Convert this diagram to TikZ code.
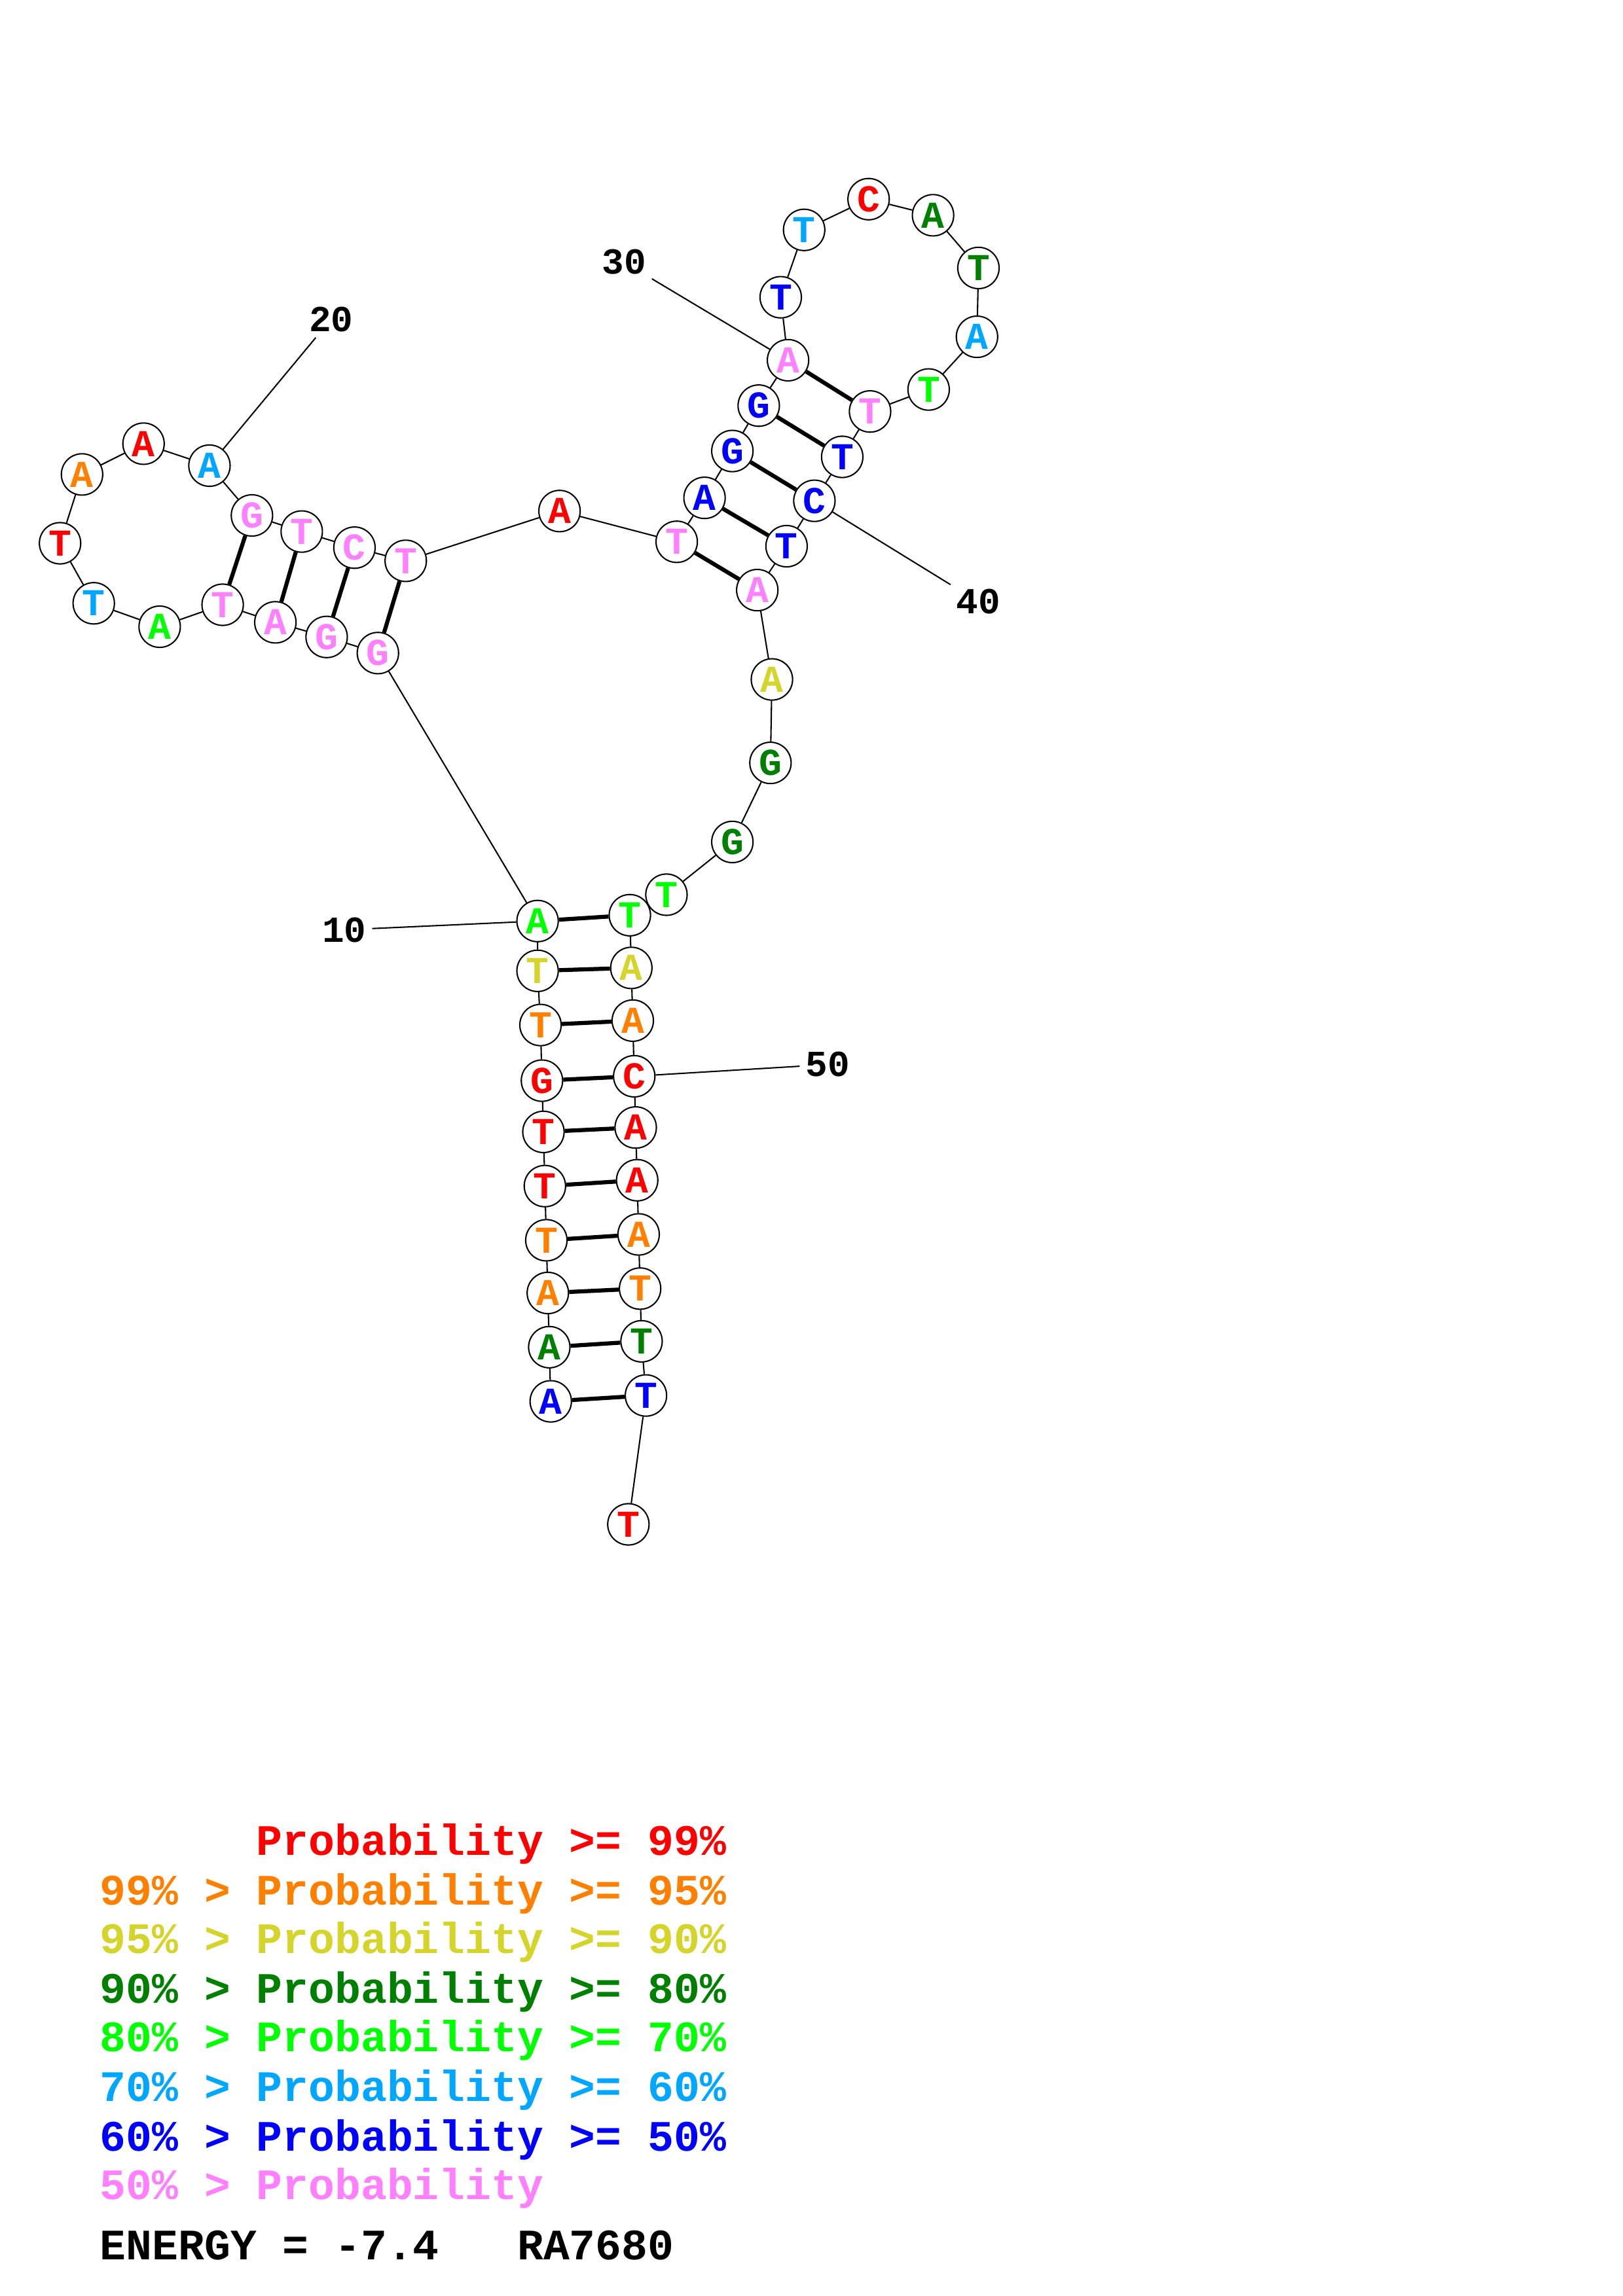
\documentclass[tikz,border=0pt]{standalone}
\usepackage{fontspec}
\setmonofont{Liberation Mono}
\usetikzlibrary{positioning}
\definecolor{pr99}{RGB}{255,0,0}
\definecolor{pr95}{RGB}{255,128,0}
\definecolor{pr90}{RGB}{212,212,42}
\definecolor{pr80}{RGB}{0,128,0}
\definecolor{pr70}{RGB}{0,255,0}
\definecolor{pr60}{RGB}{0,166,255}
\definecolor{pr50}{RGB}{0,0,255}
\definecolor{prlow}{RGB}{255,128,255}
\tikzset{
  nt/.style={circle,draw=black,fill=white,line width=0.5pt,minimum size=0.535cm,inner sep=0pt,font=\ttfamily\bfseries\fontsize{14}{14}\selectfont},
  backbone/.style={line width=0.5pt},
  pairline/.style={line width=1.5pt},
  numlabel/.style={inner sep=2pt,font=\ttfamily\bfseries\fontsize{13.5}{13.5}\selectfont},
  legendline/.style={anchor=base west,inner sep=0pt,font=\ttfamily\bfseries\fontsize{16}{16}\selectfont}
}
\begin{document}
\begin{tikzpicture}[x=0.0189531cm,y=-0.0189531cm]
\useasboundingbox (0,0) rectangle (1108,1568);
\node[nt,text=pr50] (n1) at (376,957) {A};
\node[nt,text=pr80] (n2) at (375,920) {A};
\node[nt,text=pr95] (n3) at (374,883) {A};
\node[nt,text=pr95] (n4) at (373,847) {T};
\node[nt,text=pr99] (n5) at (372,810) {T};
\node[nt,text=pr99] (n6) at (371,773) {T};
\node[nt,text=pr99] (n7) at (370,738) {G};
\node[nt,text=pr95] (n8) at (369,700) {T};
\node[nt,text=pr90] (n9) at (367,663) {T};
\node[nt,text=pr70] (n10) at (367,629) {A};
\node[nt,text=prlow] (n11) at (258,446) {G};
\node[nt,text=prlow] (n12) at (223,435) {G};
\node[nt,text=prlow] (n13) at (188,425) {A};
\node[nt,text=prlow] (n14) at (152,413) {T};
\node[nt,text=pr70] (n15) at (109,428) {A};
\node[nt,text=pr60] (n16) at (64,412) {T};
\node[nt,text=pr99] (n17) at (41,371) {T};
\node[nt,text=pr95] (n18) at (56,324) {A};
\node[nt,text=pr99] (n19) at (98,303) {A};
\node[nt,text=pr60] (n20) at (143,318) {A};
\node[nt,text=prlow] (n21) at (172,352) {G};
\node[nt,text=prlow] (n22) at (206,363) {T};
\node[nt,text=prlow] (n23) at (242,374) {C};
\node[nt,text=prlow] (n24) at (277,383) {T};
\node[nt,text=pr99] (n25) at (382,349) {A};
\node[nt,text=prlow] (n26) at (462,370) {T};
\node[nt,text=pr50] (n27) at (481,340) {A};
\node[nt,text=pr50] (n28) at (500,308) {G};
\node[nt,text=pr50] (n29) at (518,277) {G};
\node[nt,text=prlow] (n30) at (538,246) {A};
\node[nt,text=pr50] (n31) at (533,203) {T};
\node[nt,text=pr60] (n32) at (549,157) {T};
\node[nt,text=pr99] (n33) at (593,136) {C};
\node[nt,text=pr80] (n34) at (637,147) {A};
\node[nt,text=pr80] (n35) at (668,183) {T};
\node[nt,text=pr60] (n36) at (667,230) {A};
\node[nt,text=pr70] (n37) at (634,266) {T};
\node[nt,text=prlow] (n38) at (594,281) {T};
\node[nt,text=pr50] (n39) at (575,312) {T};
\node[nt,text=pr50] (n40) at (556,342) {C};
\node[nt,text=pr50] (n41) at (537,373) {T};
\node[nt,text=prlow] (n42) at (517,403) {A};
\node[nt,text=pr90] (n43) at (527,464) {A};
\node[nt,text=pr80] (n44) at (526,521) {G};
\node[nt,text=pr80] (n45) at (500,575) {G};
\node[nt,text=pr70] (n46) at (455,611) {T};
\node[nt,text=pr70] (n47) at (430,625) {T};
\node[nt,text=pr90] (n48) at (431,661) {A};
\node[nt,text=pr95] (n49) at (432,697) {A};
\node[nt,text=pr99] (n50) at (433,735) {C};
\node[nt,text=pr99] (n51) at (434,770) {A};
\node[nt,text=pr99] (n52) at (435,806) {A};
\node[nt,text=pr95] (n53) at (436,843) {A};
\node[nt,text=pr95] (n54) at (437,880) {T};
\node[nt,text=pr80] (n55) at (438,916) {T};
\node[nt,text=pr50] (n56) at (441,953) {T};
\node[nt,text=pr99] (n57) at (429,1041) {T};

\draw[backbone] (n1) -- (n2) -- (n3) -- (n4) -- (n5) -- (n6) -- (n7) -- (n8) -- (n9) -- (n10) -- (n11) -- (n12) -- (n13) -- (n14) -- (n15) -- (n16) -- (n17) -- (n18) -- (n19) -- (n20);
\draw[backbone] (n20) -- (n21) -- (n22) -- (n23) -- (n24) -- (n25) -- (n26) -- (n27) -- (n28) -- (n29) -- (n30) -- (n31) -- (n32) -- (n33) -- (n34) -- (n35) -- (n36) -- (n37) -- (n38) -- (n39) -- (n40);
\draw[backbone] (n40) -- (n41) -- (n42) -- (n43) -- (n44) -- (n45) -- (n46) -- (n47) -- (n48) -- (n49) -- (n50) -- (n51) -- (n52) -- (n53) -- (n54) -- (n55) -- (n56) -- (n57);

\draw[pairline] (n1) -- (n56);
\draw[pairline] (n2) -- (n55);
\draw[pairline] (n3) -- (n54);
\draw[pairline] (n4) -- (n53);
\draw[pairline] (n5) -- (n52);
\draw[pairline] (n6) -- (n51);
\draw[pairline] (n7) -- (n50);
\draw[pairline] (n8) -- (n49);
\draw[pairline] (n9) -- (n48);
\draw[pairline] (n10) -- (n47);
\draw[pairline] (n11) -- (n24);
\draw[pairline] (n12) -- (n23);
\draw[pairline] (n13) -- (n22);
\draw[pairline] (n14) -- (n21);
\draw[pairline] (n26) -- (n42);
\draw[pairline] (n27) -- (n41);
\draw[pairline] (n28) -- (n40);
\draw[pairline] (n29) -- (n39);
\draw[pairline] (n30) -- (n38);

\node[numlabel] (l10) at (235,635) {10};
\node[numlabel] (l20) at (226,218) {20};
\node[numlabel] (l30) at (426,179) {30};
\node[numlabel] (l40) at (668,411) {40};
\node[numlabel] (l50) at (565,727) {50};
\draw[backbone] (l10) -- (n10);
\draw[backbone] (n20) -- (l20);
\draw[backbone] (l30) -- (n30);
\draw[backbone] (n40) -- (l40);
\draw[backbone] (n50) -- (l50);

\node[legendline,text=pr99] (g99) at (68,1267) {\phantom{99\% > }Probability >= 99\%};
\node[legendline,text=pr95] (g95) at (68,1301) {99\% > Probability >= 95\%};
\node[legendline,text=pr90] (g90) at (68,1334) {95\% > Probability >= 90\%};
\node[legendline,text=pr80] (g80) at (68,1368) {90\% > Probability >= 80\%};
\node[legendline,text=pr70] (g70) at (68,1401) {80\% > Probability >= 70\%};
\node[legendline,text=pr60] (g60) at (68,1435) {70\% > Probability >= 60\%};
\node[legendline,text=pr50] (g50) at (68,1469) {60\% > Probability >= 50\%};
\node[legendline,text=prlow] (glow) at (68,1502) {50\% > Probability};
\node[legendline] (energy) at (68,1543) {ENERGY = -7.4\ \ \ RA7680};
\end{tikzpicture}
\end{document}
